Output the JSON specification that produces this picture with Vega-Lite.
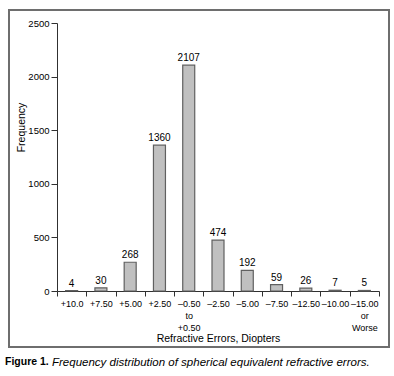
{
  "$schema": "https://vega.github.io/schema/vega-lite/v6.json",
  "autosize": {"type": "pad"},
  "padding": {"left": 4, "top": 9, "right": 4, "bottom": 5},
  "background": "white",
  "config": {
    "view": {"stroke": "#6e6e6e", "strokeWidth": 2},
    "font": "Liberation Sans",
    "axis": {"labelFont": "Liberation Sans", "titleFont": "Liberation Sans", "labelColor": "#000", "titleColor": "#000", "domainColor": "#303030", "tickColor": "#303030", "labelFontSize": 9.5, "titleFontSize": 10.5, "titleFontWeight": "normal", "grid": false},
    "concat": {"spacing": 0}
  },
  "title": {
    "text": "Frequency distribution of spherical equivalent refractive errors.",
    "orient": "bottom",
    "anchor": "start",
    "frame": "bounds",
    "offset": -12,
    "dx": 48,
    "font": "Liberation Sans",
    "fontSize": 11.5,
    "fontWeight": "normal",
    "fontStyle": "italic",
    "color": "#000"
  },
  "vconcat": [
    {
      "width": 380,
      "height": 337,
      "title": {
        "text": "Figure 1.",
        "orient": "bottom",
        "anchor": "start",
        "frame": "bounds",
        "offset": 10,
        "dx": -4,
        "font": "Liberation Sans",
        "fontSize": 10.5,
        "fontWeight": "bold",
        "color": "#000"
      },
      "data": {
        "values": [
          {"error": "+10.0", "count": 4},
          {"error": "+7.50", "count": 30},
          {"error": "+5.00", "count": 268},
          {"error": "+2.50", "count": 1360},
          {"error": "–0.50 to +0.50", "count": 2107},
          {"error": "–2.50", "count": 474},
          {"error": "–5.00", "count": 192},
          {"error": "–7.50", "count": 59},
          {"error": "–12.50", "count": 26},
          {"error": "–10.00", "count": 7},
          {"error": "–15.00 or Worse", "count": 5}
        ]
      },
      "encoding": {
        "x": {
          "field": "error", "type": "nominal", "sort": null,
          "scale": {"range": [48, 370], "paddingInner": 0, "paddingOuter": 0},
          "axis": {
            "orient": "bottom", "offset": -56, "labelAngle": 0, "tickBand": "extent",
            "tickSize": 5, "labelPadding": 3, "labelLineHeight": 12, "labelFontSize": 9,
            "labelExpr": "datum.label == '–0.50 to +0.50' ? ['–0.50', 'to', '+0.50'] : datum.label == '–15.00 or Worse' ? ['–15.00', 'or', 'Worse'] : datum.label",
            "title": "Refractive Errors, Diopters", "titlePadding": 1
          }
        },
        "y": {
          "field": "count", "type": "quantitative",
          "scale": {"domain": [0, 2500], "range": [281, 13], "nice": false},
          "axis": {
            "orient": "left", "offset": -48, "values": [0, 500, 1000, 1500, 2000, 2500], "format": "d",
            "tickSize": 6, "labelPadding": 2,
            "title": "Frequency", "titleX": -36, "titleY": 117, "titleAngle": -90, "titleAlign": "center", "titleBaseline": "middle"
          }
        }
      },
      "layer": [
        {"mark": {"type": "bar", "width": 12, "fill": "#c0c0c0", "stroke": "#606060", "strokeWidth": 1.2}},
        {"mark": {"type": "text", "dy": -7, "font": "Liberation Sans", "fontSize": 10, "fill": "#000"}, "encoding": {"text": {"field": "count", "type": "quantitative"}}}
      ]
    }
  ]
}
